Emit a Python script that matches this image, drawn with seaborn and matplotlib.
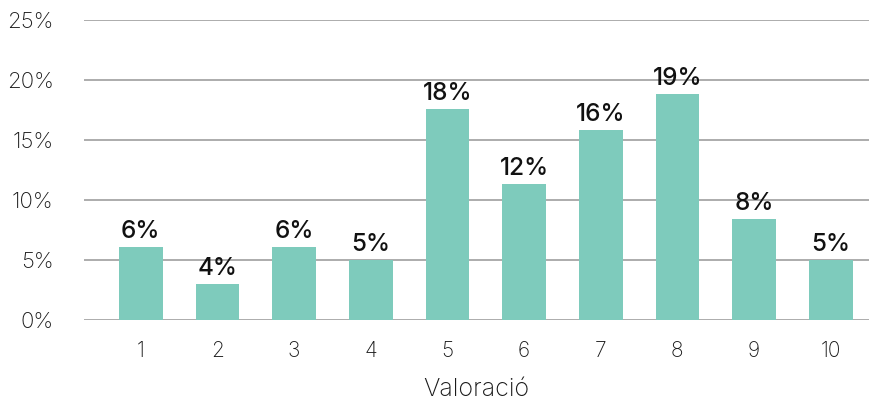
import matplotlib
matplotlib.use("Agg")
import matplotlib.pyplot as plt
import seaborn as sns
import pandas as pd

# Valoració 1..10, share of answers (%)
ratings = ["1", "2", "3", "4", "5", "6", "7", "8", "9", "10"]
shares = [6.1, 3.0, 6.1, 5.0, 17.6, 11.3, 15.8, 18.8, 8.4, 5.0]
bar_labels = ["6%", "4%", "6%", "5%", "18%", "12%", "16%", "19%", "8%", "5%"]
y_ticks = [0, 5, 10, 15, 20, 25]

df = pd.DataFrame({"Valoració": ratings, "Percent": shares})

sns.set_theme(style="white")
plt.rcParams["font.family"] = ["Inter", "DejaVu Sans"]

fig = plt.figure(figsize=(8.69, 4.01), dpi=100)
ax = fig.add_axes([84 / 869, 1 - 320 / 401, 1 - 84 / 869, 300 / 401])

sns.barplot(data=df, x="Valoració", y="Percent", color="#7ecbbc",
            saturation=1, width=0.57, linewidth=0, ax=ax, zorder=3)

for patch, lab in zip(ax.patches, bar_labels):
    ax.text(patch.get_x() + patch.get_width() / 2, patch.get_height() + 0.35, lab,
            ha="center", va="bottom", fontsize=17.5, fontweight="medium",
            color="#111111")

ax.set_ylim(0, 25)
ax.set_xlim(-0.74, 9.5)
ax.set_yticks(y_ticks)
ax.set_yticklabels([f"{t}%" for t in y_ticks])
ax.yaxis.grid(True, color="#a6a6a6", linewidth=1.3)
ax.set_axisbelow(True)
for s in ax.spines.values():
    s.set_visible(False)
ax.tick_params(axis="y", labelsize=16, colors="#1a1a1a", length=0, pad=22)
ax.tick_params(axis="x", labelsize=15, colors="#1a1a1a", length=0, pad=15)
for t in ax.get_yticklabels() + ax.get_xticklabels():
    t.set_fontweight("light")
ax.set_ylabel("")
ax.set_xlabel("Valoració", fontsize=18, color="#1a1a1a", fontweight="light",
              labelpad=12)

fig.savefig("out.png", dpi=100)
